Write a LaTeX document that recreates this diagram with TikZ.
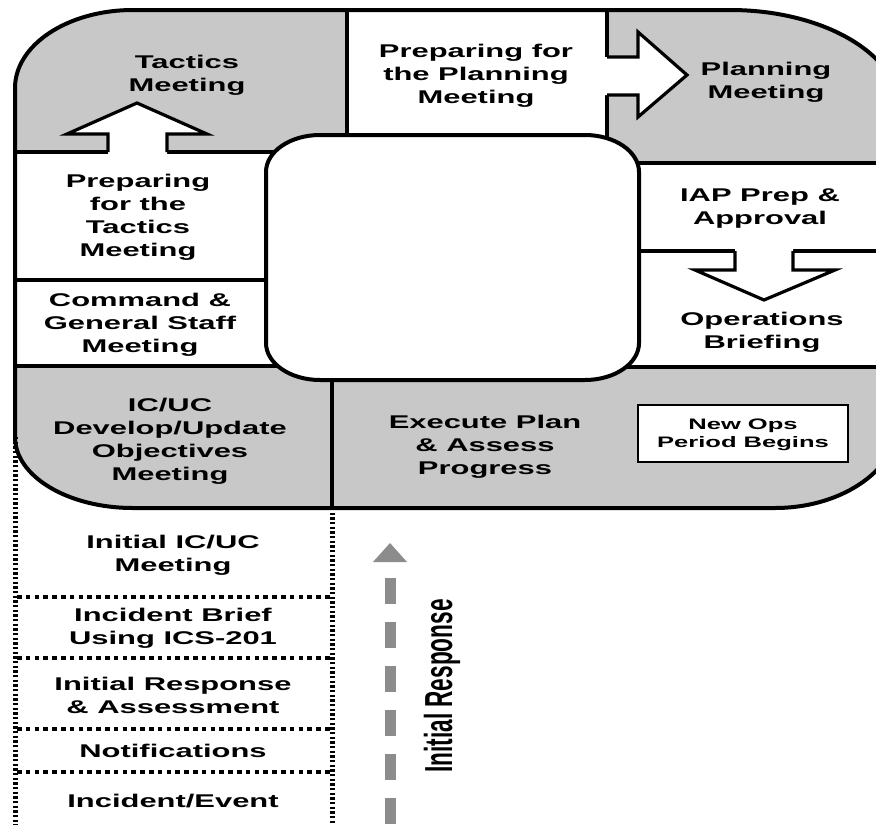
\documentclass[tikz,border=0pt]{standalone}
\usepackage{fontspec}
\setmainfont{Liberation Sans}
\usepackage{graphicx}
\definecolor{panel}{RGB}{200,200,200}
\definecolor{irgrey}{RGB}{140,140,140}
\begin{document}
\begin{tikzpicture}[x=0.75pt,y=-0.75pt,
  lbl/.style={font=\bfseries\fontsize{13.8}{17.25}\selectfont, align=center, xscale=1.68, inner sep=0pt},
  smalllbl/.style={font=\bfseries\fontsize{11.4}{13.5}\selectfont, align=center, xscale=1.68, inner sep=0pt},
  hline/.style={line width=2.4pt},
  vline/.style={line width=3pt},
  border/.style={line width=3pt},
  arrowline/.style={line width=2.4pt, line join=miter},
  vdots/.style={line width=3.75pt, dash pattern=on 1.75pt off 1.75pt},
  hdots/.style={line width=2.6pt, dash pattern=on 3.4pt off 3.2pt},
]
\useasboundingbox (0,0) rectangle (876,825);
\clip (0,0) rectangle (876,825);

% grey panels clipped to the outer shape
\begin{scope}
\clip (133,10) -- (730,10) .. controls (823.9,10) and (900,54.8) .. (900,110) -- (900,418) .. controls (900,467.7) and (844,508) .. (775,508) -- (133,508) .. controls (67.8,508) and (15,476.2) .. (15,437) -- (15,88) .. controls (15,44.9) and (67.8,10) .. (133,10) -- cycle;
\fill[panel] (0,0) rectangle (347,152);
\fill[panel] (607,0) rectangle (900,163);
\fill[panel] (0,366) rectangle (900,520);
\end{scope}

% inner rounded box
\draw[border, fill=white] (320,135) -- (585,135) .. controls (614.8,135) and (639,151.6) .. (639,172) -- (639,343) .. controls (639,363.4) and (614.8,380) .. (585,380) -- (320,380) .. controls (290.2,380) and (266,363.4) .. (266,343) -- (266,172) .. controls (266,151.6) and (290.2,135) .. (320,135) -- cycle;

% dividers
\draw[vline] (347,10) -- (347,135);
\draw[vline] (607,10) -- (607,138);
\draw[vline] (332,380) -- (332,508);
\draw[hline] (15,152) -- (275,152);
\draw[hline] (15,280) -- (266,280);
\draw[hline] (15,366) -- (278,366);
\draw[hline] (637,163) -- (900,163);
\draw[hline] (639,251) -- (900,251);
\draw[hline] (626,367) -- (900,367);

% block arrows
\fill[white] (108,157) -- (108,134) -- (67,134) -- (137,103) -- (207,134) -- (167,134) -- (167,157) -- cycle;
\draw[arrowline] (108,152) -- (108,134) -- (67,134) -- (137,103) -- (207,134) -- (167,134) -- (167,152);
\fill[white] (602,57) -- (638,57) -- (638,32) -- (687,75) -- (638,117) -- (638,95) -- (602,95) -- cycle;
\draw[arrowline] (607,57) -- (638,57) -- (638,32) -- (687,75) -- (638,117) -- (638,95) -- (607,95);
\fill[white] (735,246) -- (735,270) -- (695,270) -- (764,300) -- (835,270) -- (793,270) -- (793,246) -- cycle;
\draw[arrowline] (735,251) -- (735,270) -- (695,270) -- (764,300) -- (835,270) -- (793,270) -- (793,251);

% outer border
\draw[border] (133,10) -- (730,10) .. controls (823.9,10) and (900,54.8) .. (900,110) -- (900,418) .. controls (900,467.7) and (844,508) .. (775,508) -- (133,508) .. controls (67.8,508) and (15,476.2) .. (15,437) -- (15,88) .. controls (15,44.9) and (67.8,10) .. (133,10) -- cycle;

% new ops box
\draw[line width=1.6pt, fill=white] (638,405) rectangle (848,462);

% labels
\node[lbl] (tac) at (187,75) {Tactics\\Meeting};
\node[lbl] (ppm) at (476,76) {Preparing for\\the Planning\\Meeting};
\node[lbl] (pm) at (766,82) {Planning\\Meeting};
\node[lbl] (ptm) at (138,217) {Preparing\\for the\\Tactics\\Meeting};
\node[lbl] (cgs) at (140,325) {Command \&\\General Staff\\Meeting};
\node[lbl] (obj) at (170,441) {IC/UC\\Develop/Update\\Objectives\\Meeting};
\node[lbl] (exe) at (485,447) {Execute Plan\\\& Assess\\Progress};
\node[lbl] (iap) at (760,209) {IAP Prep \&\\Approval};
\node[lbl] (ops) at (762,332) {Operations\\Briefing};
\node[smalllbl] (nop) at (743,435) {New Ops\\Period Begins};

% initial response section
\draw[vdots] (15,437) -- (15,830);
\draw[vdots] (332,508) -- (332,830);
\draw[hdots] (17,597) -- (330,597);
\draw[hdots] (17,658) -- (330,658);
\draw[hdots] (17,729) -- (330,729);
\draw[hdots] (17,772) -- (330,772);

\node[lbl] (iicuc) at (173,555) {Initial IC/UC\\Meeting};
\node[lbl] (ibrief) at (173,628) {Incident Brief\\Using ICS-201};
\node[lbl] (iresp) at (173,695) {Initial Response\\\& Assessment};
\node[lbl] (notif) at (173,751) {Notifications};
\node[lbl] (event) at (173,801) {Incident/Event};

\fill[irgrey] (390,543) -- (407,562) -- (373,562) -- cycle;
\draw[irgrey, line width=8.25pt, dash pattern=on 19.5pt off 13.5pt] (390,578) -- (390,830);
\node[rotate=90, anchor=base, inner sep=0pt, font=\bfseries\fontsize{29.3}{30}\selectfont] (irlabel) at (452,686) {\scalebox{0.579}[1]{Initial Response}};
\end{tikzpicture}
\end{document}
